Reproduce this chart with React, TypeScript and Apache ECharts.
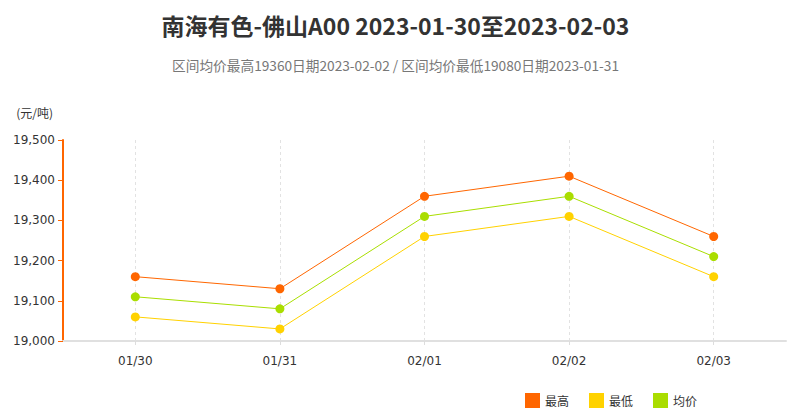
import React, { useEffect, useRef } from 'react';
import * as echarts from 'echarts';

const categories = ['01/30', '01/31', '02/01', '02/02', '02/03'];
const highValues = [19160, 19130, 19360, 19410, 19260];
const lowValues = [19060, 19030, 19260, 19310, 19160];
const avgValues = [19110, 19080, 19310, 19360, 19210];

const titleText = '南海有色-佛山A00 2023-01-30至2023-02-03';
const subText = '区间均价最高19360日期2023-02-02 / 区间均价最低19080日期2023-01-31';

const FONT = '"Noto Sans CJK SC", "Noto Sans", sans-serif';

export default function App() {
  const chartRef = useRef<HTMLDivElement>(null);

  useEffect(() => {
    if (!chartRef.current) return;
    const chart = echarts.init(chartRef.current, null, { renderer: 'svg' });

    const series = [
      { name: '最高', data: highValues, color: '#FF6600' },
      { name: '最低', data: lowValues, color: '#FFD200' },
      { name: '均价', data: avgValues, color: '#AADD00' }
    ].map(s => ({
      name: s.name,
      type: 'line',
      data: s.data,
      symbol: 'circle',
      symbolSize: 9,
      showSymbol: true,
      lineStyle: { width: 1, color: s.color },
      itemStyle: { color: s.color }
    }));

    chart.setOption({
      animation: false,
      backgroundColor: '#fff',
      title: {
        text: titleText,
        subtext: subText,
        left: 'center',
        top: 8,
        itemGap: 22,
        textStyle: { fontFamily: FONT, fontSize: 23, fontWeight: 'bold', color: '#333' },
        subtextStyle: { fontFamily: FONT, fontSize: 13.7, color: '#777' }
      },
      legend: {
        left: 520,
        top: 388,
        icon: 'rect',
        itemWidth: 15,
        itemHeight: 15,
        itemGap: 20,
        textStyle: { fontFamily: FONT, fontSize: 12, color: '#333' },
        data: ['最高', '最低', '均价']
      },
      grid: { left: 63, right: 5, top: 140, bottom: 72 },
      xAxis: {
        type: 'category',
        data: categories,
        boundaryGap: true,
        axisLine: { lineStyle: { color: '#e0e0e0', width: 2 } },
        axisTick: { show: true, alignWithLabel: true, length: 5, lineStyle: { color: '#ddd', type: 'dashed' } },
        axisLabel: { fontFamily: 'DejaVu Sans, Verdana, sans-serif', fontSize: 12, color: '#333', margin: 14 },
        splitLine: { show: true, alignWithLabel: true, lineStyle: { color: '#e2e2e2', type: [3, 3] } }
      },
      yAxis: {
        type: 'value',
        min: 19000,
        max: 19500,
        interval: 100,
        name: '(元/吨)',
        nameLocation: 'end',
        nameGap: 22,
        nameTextStyle: { fontFamily: FONT, fontSize: 12, color: '#333', align: 'right', padding: [0, 10, 0, 0] },
        axisLine: { show: true, lineStyle: { color: '#FF6600', width: 2 } },
        axisTick: { show: true, length: 5, lineStyle: { color: '#FF6600' } },
        axisLabel: {
          fontFamily: 'DejaVu Sans, Verdana, sans-serif',
          fontSize: 12,
          color: '#333',
          margin: 8,
          formatter: (v: number) => v.toLocaleString('en-US')
        },
        splitLine: { show: false }
      },
      series
    });

    return () => chart.dispose();
  }, []);

  return (
    <div
      ref={chartRef}
      style={{ position: 'absolute', left: 0, top: 0, width: 791, height: 413 }}
    />
  );
}
